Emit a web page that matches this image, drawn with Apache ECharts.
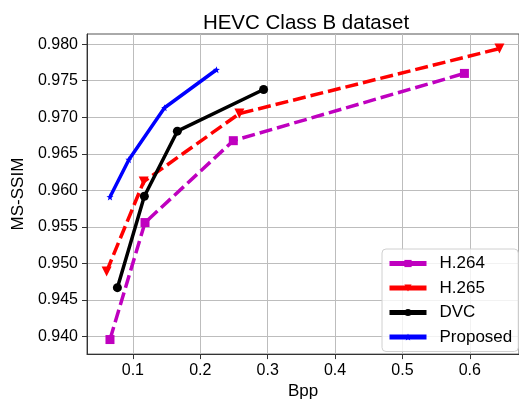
<!DOCTYPE html>
<html>
<head>
<meta charset="utf-8">
<script src="https://cdn.jsdelivr.net/npm/echarts@6/dist/echarts.min.js"></script>
<style>
  html, body { margin: 0; padding: 0; background: #fff; }
  #chart { width: 519px; height: 405px; }
</style>
</head>
<body>
<div id="chart"></div>
<script type="text/javascript">
// 数据
var seriesNames = ["H.264", "H.265", "DVC", "Proposed"];
var h264X = [0.066, 0.118, 0.249, 0.592];
var h264Y = [0.9396, 0.9556, 0.9668, 0.9760];
var h265X = [0.061, 0.116, 0.258, 0.644];
var h265Y = [0.9489, 0.9612, 0.9705, 0.9794];
var dvcX = [0.077, 0.117, 0.166, 0.294];
var dvcY = [0.9467, 0.9592, 0.9681, 0.9738];
var propX = [0.066, 0.094, 0.147, 0.224];
var propY = [0.9591, 0.9642, 0.9713, 0.9765];
var xTicks = [0.1, 0.2, 0.3, 0.4, 0.5, 0.6];
var yTicks = [0.940, 0.945, 0.950, 0.955, 0.960, 0.965, 0.970, 0.975, 0.980];

function pairs(xs, ys) {
  return xs.map(function (x, i) { return [x, ys[i]]; });
}

var font = "Liberation Sans, Arial, sans-serif";
var starPath = "path://M0,-10 L2.35,-3.24 L9.51,-3.09 L3.8,1.24 L5.88,8.09 L0,4 L-5.88,8.09 L-3.8,1.24 L-9.51,-3.09 L-2.35,-3.24 Z";

function lineSeries(name, data, color, dashed, symbol, size, rotate) {
  return {
    name: name,
    type: "line",
    data: data,
    symbol: symbol,
    symbolSize: size,
    symbolRotate: rotate || 0,
    showAllSymbol: true,
    lineStyle: { color: color, width: 3.5, type: dashed ? [13, 5] : "solid" },
    itemStyle: { color: color },
    emphasis: { disabled: true },
    animation: false
  };
}

var myChart = echarts.init(document.getElementById("chart"));
var option = {
  backgroundColor: "#fff",
  title: {
    text: "HEVC Class B dataset",
    left: 301,
    textAlign: "center",
    top: 8,
    textStyle: { fontFamily: font, fontSize: 20.5, fontWeight: "normal", color: "#000" }
  },
  grid: {
    left: 87,
    right: -8.5,
    top: 34,
    bottom: 45,
    show: true,
    borderColor: "#555",
    borderWidth: 1
  },
  legend: {
    data: seriesNames.map(function (n) { return { name: n }; }),
    orient: "vertical",
    left: 382,
    top: 249,
    padding: [6, 6, 6, 5],
    itemWidth: 37,
    itemHeight: 9,
    itemGap: 7.5,
    lineStyle: { type: "solid", width: 5 },
    backgroundColor: "rgba(255,255,255,0.8)",
    borderColor: "#d0d0d0",
    borderWidth: 1,
    borderRadius: 4,
    textStyle: { fontFamily: font, fontSize: 17, color: "#000", padding: [0, 0, 0, 8] }
  },
  xAxis: {
    type: "value",
    min: 0.0319,
    max: 0.673,
    name: "Bpp",
    nameLocation: "middle",
    nameGap: 27,
    nameTextStyle: { fontFamily: font, fontSize: 17, color: "#000" },
    axisLine: { show: true, onZero: false, lineStyle: { color: "#333", width: 1 } },
    axisTick: { show: true, customValues: xTicks, length: 5, lineStyle: { color: "#333" } },
    axisLabel: {
      customValues: xTicks,
      margin: 8,
      fontFamily: font,
      fontSize: 16,
      color: "#000",
      formatter: function (v) { return v.toFixed(1); }
    },
    splitLine: { show: true, lineStyle: { color: "#bdbdbd", width: 1 } }
  },
  yAxis: {
    type: "value",
    min: 0.93761,
    max: 0.98139,
    name: "MS-SSIM",
    nameLocation: "middle",
    nameGap: 58,
    nameTextStyle: { fontFamily: font, fontSize: 17, color: "#000" },
    axisLine: { show: true, onZero: false, lineStyle: { color: "#333", width: 1 } },
    axisTick: { show: true, customValues: yTicks, length: 5, lineStyle: { color: "#333" } },
    axisLabel: {
      customValues: yTicks,
      margin: 9,
      fontFamily: font,
      fontSize: 16,
      color: "#000",
      formatter: function (v) { return v.toFixed(3); }
    },
    splitLine: { show: true, lineStyle: { color: "#bdbdbd", width: 1 } }
  },
  series: [
    lineSeries("H.264", pairs(h264X, h264Y), "#bf00bf", true, "rect", 9),
    lineSeries("H.265", pairs(h265X, h265Y), "#ff0000", true, "triangle", 10, 180),
    lineSeries("DVC", pairs(dvcX, dvcY), "#000000", false, "circle", 9),
    lineSeries("Proposed", pairs(propX, propY), "#0000ff", false, starPath, 7)
  ]
};
myChart.setOption(option);
</script>
</body>
</html>
